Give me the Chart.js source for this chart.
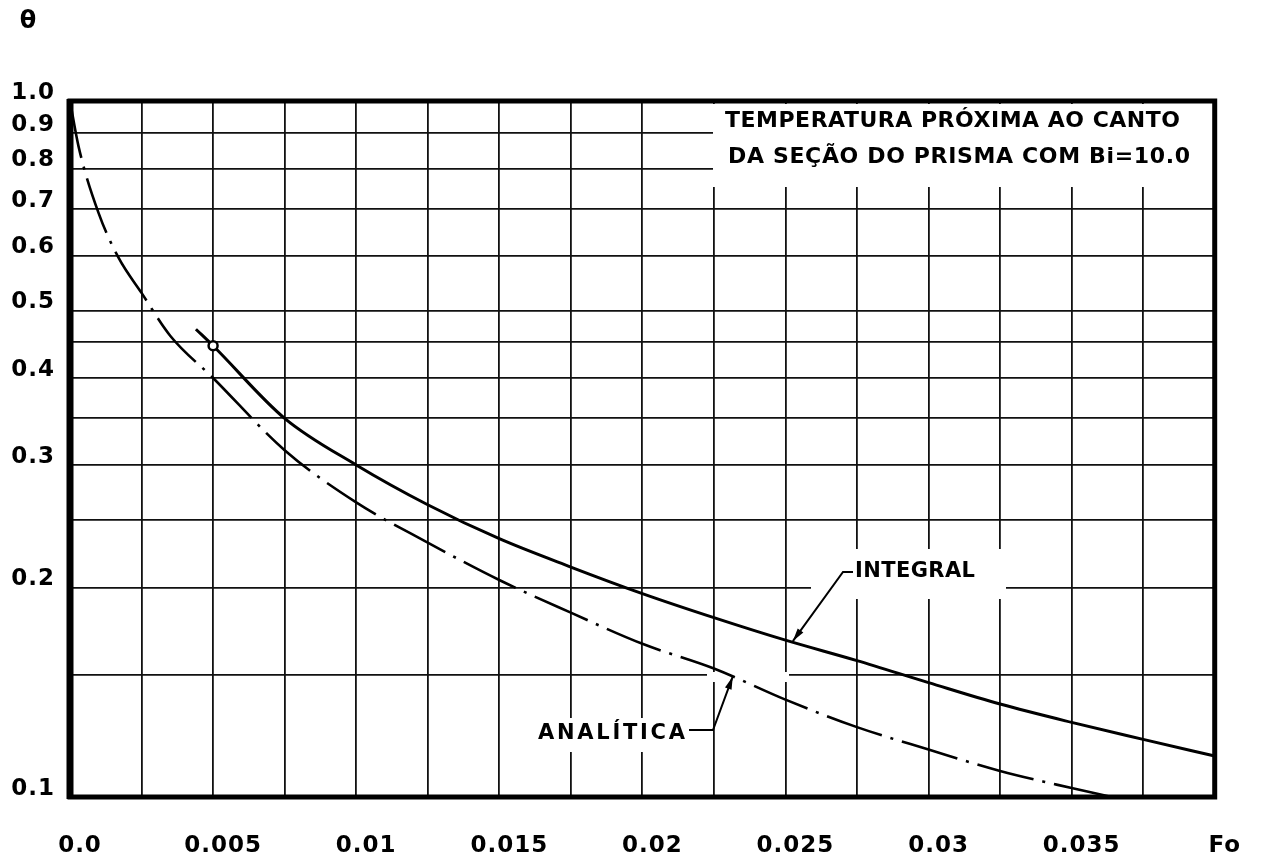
<!DOCTYPE html>
<html>
<head>
<meta charset="utf-8">
<script src="https://cdn.jsdelivr.net/npm/chart.js@4.4.0/dist/chart.umd.min.js"></script>
<style>
  html, body { margin: 0; padding: 0; background: #fff; }
  #wrap { width: 1265px; height: 864px; position: relative; }
</style>
</head>
<body>
<div id="wrap"><canvas id="myChart"></canvas></div>
<script>
// curves: Fo on x, theta (log) on y
var analyticFo = [0, 0.0003, 0.001, 0.0017, 0.0025, 0.0035, 0.005, 0.0075, 0.01, 0.0125, 0.015, 0.0175, 0.02, 0.0225, 0.025, 0.0275, 0.03, 0.0325, 0.035, 0.0364];
var analyticTheta = [1.0, 0.86, 0.69, 0.595, 0.53, 0.46, 0.40, 0.315, 0.265, 0.232, 0.205, 0.184, 0.166, 0.153, 0.138, 0.126, 0.117, 0.109, 0.103, 0.1];

var integralFo = [0.0044, 0.005, 0.0075, 0.01, 0.0125, 0.015, 0.0175, 0.02, 0.0225, 0.025, 0.0275, 0.03, 0.0325, 0.035, 0.0375, 0.04];
var integralTheta = [0.47, 0.445, 0.35, 0.30, 0.263, 0.235, 0.214, 0.196, 0.181, 0.168, 0.157, 0.146, 0.136, 0.128, 0.121, 0.1145];
var markerFo = 0.005;

var xGridValues = [0, 0.0025, 0.005, 0.0075, 0.01, 0.0125, 0.015, 0.0175, 0.02, 0.0225, 0.025, 0.0275, 0.03, 0.0325, 0.035, 0.0375, 0.04];
var xTickLabels = ['0.0', '', '0.005', '', '0.01', '', '0.015', '', '0.02', '', '0.025', '', '0.03', '', '0.035', '', 'Fo'];
var yGridValues = [0.1, 0.15, 0.2, 0.25, 0.3, 0.35, 0.4, 0.45, 0.5, 0.6, 0.7, 0.8, 0.9, 1.0];
var yTickLabels = ['0.1', '', '0.2', '', '0.3', '', '0.4', '', '0.5', '0.6', '0.7', '0.8', '0.9', '1.0'];

var titleLines = ['TEMPERATURA PRÓXIMA AO CANTO', 'DA SEÇÃO DO PRISMA COM Bi=10.0'];
var analyticLabel = 'ANALÍTICA';
var integralLabel = 'INTEGRAL';
var yAxisSymbol = 'θ';

var FONT = '"DejaVu Sans", sans-serif';
var INK = '#000';

function toPoints(xs, ys) {
    return xs.map(function (x, i) { return { x: x, y: ys[i] }; });
}

// text stretched to a given width with letter spacing
function fitText(ctx, text, x, y, width, size) {
    ctx.save();
    ctx.font = 'bold ' + size + 'px ' + FONT;
    ctx.fillStyle = INK;
    ctx.textAlign = 'left';
    ctx.textBaseline = 'middle';
    var n = Array.from(text).length;
    if ('letterSpacing' in ctx) {
        ctx.letterSpacing = '0px';
        var w = ctx.measureText(text).width;
        ctx.letterSpacing = ((width - w) / (n - 1)) + 'px';
        ctx.fillText(text, x, y);
    } else {
        var w2 = ctx.measureText(text).width;
        ctx.translate(x, y);
        ctx.scale(width / w2, 1);
        ctx.fillText(text, 0, 0);
    }
    ctx.restore();
}

function leader(ctx, pts) {
    ctx.save();
    ctx.strokeStyle = INK;
    ctx.fillStyle = INK;
    ctx.lineWidth = 2;
    ctx.beginPath();
    ctx.moveTo(pts[0][0], pts[0][1]);
    for (var i = 1; i < pts.length; i++) ctx.lineTo(pts[i][0], pts[i][1]);
    ctx.stroke();
    // arrow head at last point
    var a = pts[pts.length - 2], b = pts[pts.length - 1];
    var ang = Math.atan2(b[1] - a[1], b[0] - a[0]);
    ctx.translate(b[0], b[1]);
    ctx.rotate(ang);
    ctx.beginPath();
    ctx.moveTo(0, 0);
    ctx.lineTo(-13, -3.5);
    ctx.lineTo(-13, 3.5);
    ctx.closePath();
    ctx.fill();
    ctx.restore();
}

// white areas where the grid is broken around the lettering
var knockouts = [
    [713, 104, 518, 83],
    [811, 549, 195, 50],
    [792, 594, 11, 70],
    [719, 655, 13, 83],
    [707, 672, 82, 10],
    [574, 700, 11, 57],
    [533, 718, 160, 34]
];

var drawing = {
    id: 'drawing',
    beforeDraw: function (chart) {
        chart.ctx.letterSpacing = '1px';
    },
    beforeDatasetsDraw: function (chart) {
        var ctx = chart.ctx;
        ctx.save();
        ctx.fillStyle = '#fff';
        knockouts.forEach(function (k) { ctx.fillRect(k[0], k[1], k[2], k[3]); });
        ctx.restore();
    },
    afterDatasetsDraw: function (chart) {
        var ctx = chart.ctx;
        var a = chart.chartArea;
        var xs = chart.scales.x, ys = chart.scales.y;

        // frame
        ctx.save();
        ctx.strokeStyle = INK;
        ctx.lineWidth = 5;
        ctx.strokeRect(a.left, a.top, a.right - a.left, a.bottom - a.top);
        ctx.lineWidth = 7;
        ctx.beginPath();
        ctx.moveTo(a.left, a.top - 2);
        ctx.lineTo(a.left, a.bottom + 2);
        ctx.stroke();
        ctx.restore();

        ctx.save();
        ctx.letterSpacing = '0px';
        fitText(ctx, titleLines[0], 725, 121, 455, 22);
        fitText(ctx, titleLines[1], 728, 157, 462, 22);
        fitText(ctx, integralLabel, 855, 572, 120, 21);
        fitText(ctx, analyticLabel, 538, 734, 147, 21);

        leader(ctx, [[853, 572], [843, 572], [xs.getPixelForValue(0.02526), ys.getPixelForValue(0.1675)]]);
        leader(ctx, [[689, 730], [713, 730], [xs.getPixelForValue(0.02316), ys.getPixelForValue(0.149)]]);

        ctx.font = 'bold 24px ' + FONT;
        ctx.fillStyle = INK;
        ctx.textAlign = 'center';
        ctx.textBaseline = 'middle';
        ctx.fillText(yAxisSymbol, 28, 22);
        ctx.restore();
    },
    afterDraw: function (chart) {
        chart.ctx.letterSpacing = '0px';
    }
};

var ctx = document.getElementById('myChart');

var myChart = new Chart(ctx, {
    type: 'line',
    data: {
        datasets: [{
            label: analyticLabel,
            data: toPoints(analyticFo, analyticTheta),
            borderColor: INK,
            borderWidth: 2.6,
            borderDash: [58, 9, 3, 9],
            pointRadius: 0,
            cubicInterpolationMode: 'monotone',
            fill: false
        }, {
            label: integralLabel,
            data: toPoints(integralFo, integralTheta),
            borderColor: INK,
            borderWidth: 3,
            pointRadius: function (c) { return c.raw && c.raw.x === markerFo ? 4.5 : 0; },
            pointBackgroundColor: '#fff',
            pointBorderColor: INK,
            pointBorderWidth: 2.5,
            cubicInterpolationMode: 'monotone',
            fill: false
        }]
    },
    options: {
        responsive: true,
        maintainAspectRatio: false,
        animation: false,
        layout: { padding: { top: 101, right: 31, left: 0, bottom: 0 } },
        plugins: { legend: { display: false }, tooltip: { enabled: false } },
        scales: {
            x: {
                type: 'linear',
                min: 0,
                max: 0.04,
                afterBuildTicks: function (s) { s.ticks = xGridValues.map(function (v) { return { value: v }; }); },
                afterFit: function (s) { s.height = 67; },
                border: { display: false },
                grid: { color: '#111', lineWidth: 1.8, drawTicks: false },
                ticks: {
                    autoSkip: false,
                    maxRotation: 0,
                    minRotation: 0,
                    padding: 35,
                    labelOffset: 10,
                    color: INK,
                    font: { family: FONT, size: 23, weight: 'bold' },
                    callback: function (v, i) { return xTickLabels[i]; }
                }
            },
            y: {
                type: 'logarithmic',
                min: 0.1,
                max: 1.0,
                afterBuildTicks: function (s) { s.ticks = yGridValues.map(function (v) { return { value: v }; }); },
                afterFit: function (s) { s.width = 70; },
                border: { display: false },
                grid: { color: '#111', lineWidth: 1.8, drawTicks: false },
                ticks: {
                    autoSkip: false,
                    padding: 15,
                    labelOffset: -8,
                    color: INK,
                    font: { family: FONT, size: 23, weight: 'bold' },
                    callback: function (v, i) { return yTickLabels[i]; }
                }
            }
        }
    },
    plugins: [drawing]
});
</script>
</body>
</html>
